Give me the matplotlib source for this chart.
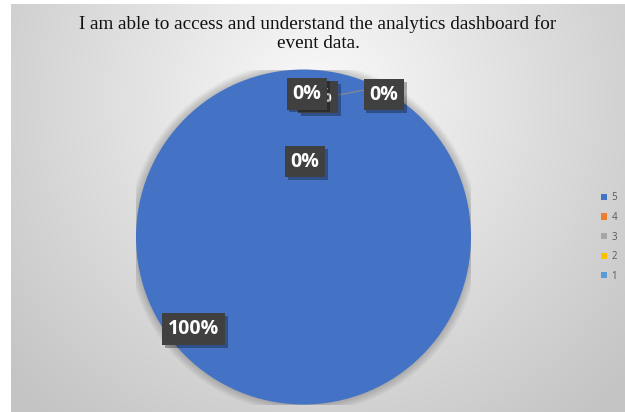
import numpy as np
import matplotlib
matplotlib.use("Agg")
import matplotlib.pyplot as plt
from matplotlib.patches import Patch, Circle
import matplotlib.patheffects as pe

# Survey responses (Likert score) and their share of answers
categories = ["5", "4", "3", "2", "1"]
shares = [100, 0, 0, 0, 0]
colors = ["#4472C4", "#ED7D31", "#A5A5A5", "#FFC000", "#5B9BD5"]
title = "I am able to access and understand the analytics dashboard for\nevent data."

# where each percentage box sits (pie data coordinates)
label_pos = {
    "5": (-0.655, -0.55),
    "4": (0.087, 0.835),
    "3": (0.02, 0.855),
    "2": (0.01, 0.45),
    "1": (0.48, 0.85),
}
draw_order = ["5", "4", "3", "2", "1"]

W, H = 625, 412
fig = plt.figure(figsize=(W / 100, H / 100), dpi=100)
fig.patch.set_facecolor("white")

# chart area with radial grey gradient
bg = fig.add_axes([11 / W, 0, (W - 11) / W, (H - 4) / H])
bw, bh = W - 11, H - 4
yy, xx = np.mgrid[0:bh, 0:bw]
d = np.hypot(xx - bw / 2, yy - 95)
val = np.clip(250 - 0.13 * d, 196, 250) / 255.0
bg.imshow(np.dstack([val, val, val]), aspect="auto", extent=(0, bw, bh, 0))
bg.set_axis_off()

bg.text(bw / 2, 11, title, ha="center", va="top", fontsize=13.8,
        family="Liberation Serif", color="#111111", linespacing=1.17)

# pie
cx, cy, r = 303.5, 237, 167.5
ax = fig.add_axes([(cx - r) / W, (H - cy - r) / H, 2 * r / W, 2 * r / H])

# soft shadow around the pie
for k in range(10):
    rad = 1.0 + 0.005 * (10 - k)
    ax.add_patch(Circle((0, 0.0), rad, color="black", alpha=0.018, lw=0, zorder=0))

wedges, _ = ax.pie(shares, colors=colors, startangle=90, counterclock=False,
                   radius=1.0, wedgeprops=dict(linewidth=0))
for w in wedges:
    w.set_zorder(1)
ax.set_xlim(-1, 1)
ax.set_ylim(-1, 1)
ax.set_axis_off()

# leader line for the small slice label
ax.plot([0.19, 0.38], [0.845, 0.88], color="#8c8c8c", lw=0.8, zorder=2)

for i, cat in enumerate(draw_order):
    v = shares[categories.index(cat)]
    x, y = label_pos[cat]
    t = ax.text(x, y, f"{v:.0f}%", ha="center", va="center", fontsize=14,
                family="Open Sans", fontweight="bold", color="white",
                zorder=5 + i,
                bbox=dict(boxstyle="square,pad=0.3", fc="#404040", ec="none"))
    t.get_bbox_patch().set_path_effects([
        pe.SimplePatchShadow(offset=(2, -2), shadow_rgbFace="black", alpha=0.3),
        pe.Normal()])

handles = [Patch(facecolor=c, edgecolor="none") for c in colors]
fig.legend(handles, categories, loc="center left",
           bbox_to_anchor=(597 / W, (H - 237) / H), frameon=False,
           handlelength=0.6, handleheight=0.6, handletextpad=0.5,
           labelspacing=0.88, borderaxespad=0, prop=dict(family="Open Sans", size=7),
           labelcolor="#595959")

fig.savefig("out.png", dpi=100)
